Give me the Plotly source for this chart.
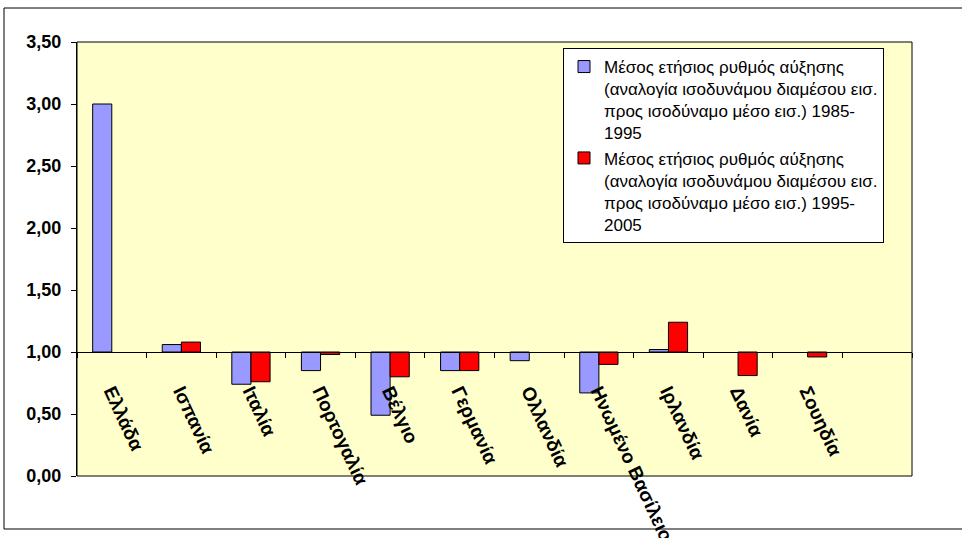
import plotly.graph_objects as go

# Countries (last slot is an empty category)
countries = ["Ελλάδα", "Ισπανία", "Ιταλία", "Πορτογαλία", "Βέλγιο", "Γερμανία",
             "Ολλανδία", "Ηνωμένο Βασίλειο", "Ιρλανδία", "Δανία", "Σουηδία", " "]

# Average annual growth ratio, 1985-1995 and 1995-2005
growth_1985_1995 = [3.00, 1.06, 0.74, 0.85, 0.49, 0.85, 0.93, 0.67, 1.02, None, None, None]
growth_1995_2005 = [None, 1.08, 0.76, 0.98, 0.80, 0.85, None, 0.90, 1.24, 0.81, 0.96, None]

series_names = [
    "Μέσος ετήσιος ρυθμός αύξησης<br>(αναλογία ισοδυνάμου διαμέσου εισ.<br>προς ισοδύναμο μέσο εισ.) 1985-<br>1995",
    "Μέσος ετήσιος ρυθμός αύξησης<br>(αναλογία ισοδυνάμου διαμέσου εισ.<br>προς ισοδύναμο μέσο εισ.) 1995-<br>2005",
]
series_colors = ["#9999FF", "#FF0000"]

y_ticks = [0, 0.5, 1.0, 1.5, 2.0, 2.5, 3.0, 3.5]
y_tick_text = [f"{v:.2f}".replace(".", ",") for v in y_ticks]

BASE = 1.0
FONT = "Liberation Sans, Arial, sans-serif"

fig = go.Figure()
for name, vals, col in zip(series_names, [growth_1985_1995, growth_1995_2005], series_colors):
    fig.add_trace(go.Bar(
        x=countries,
        y=[None if v is None else v - BASE for v in vals],
        base=BASE,
        name=name,
        marker=dict(color=col, line=dict(color="#000000", width=1)),
        customdata=vals,
        hovertemplate="%{x}: %{customdata:.2f}<extra></extra>",
    ))

W, H = 962, 538
L, R, T, B = 77, 50, 42, 62
pw, ph = W - L - R, H - T - B

def px_x(p):
    return (p - L) / pw

def px_y(p):
    return (H - B - p) / ph

fig.update_layout(
    width=W, height=H,
    margin=dict(l=L, r=R, t=T, b=B, autoexpand=False),
    paper_bgcolor="#FFFFFF",
    plot_bgcolor="#FFFFCC",
    barmode="group",
    bargap=0.45,
    bargroupgap=0,
    font=dict(family=FONT, size=14, color="#000000"),
    showlegend=True,
    legend=dict(
        x=px_x(563), y=px_y(48), xanchor="left", yanchor="top",
        bgcolor="#FFFFFF", bordercolor="#000000", borderwidth=1,
        font=dict(family=FONT, size=17, color="#000000"),
        valign="top", tracegroupgap=5, itemwidth=30,
    ),
    xaxis=dict(
        type="category",
        anchor="free",
        position=(BASE - y_ticks[0]) / (y_ticks[-1] - y_ticks[0]),
        showline=True, linecolor="#000000", linewidth=1,
        ticks="outside", ticklen=5, tickcolor="#000000", tickson="boundaries",
        tickangle=65,
        tickfont=dict(family=FONT, size=19, color="#000000", weight="bold"),
        ticklabelstandoff=20,
        showgrid=False, zeroline=False,
        automargin=False,
        range=[-0.5, len(countries) - 0.5],
    ),
    yaxis=dict(
        range=[y_ticks[0], y_ticks[-1]],
        tickvals=y_ticks, ticktext=y_tick_text,
        showline=True, linecolor="#000000", linewidth=1,
        ticks="outside", ticklen=5, tickcolor="#000000",
        tickfont=dict(family=FONT, size=18, color="#000000", weight="bold"),
        ticklabelstandoff=6,
        showgrid=False, zeroline=False,
        automargin=False,
    ),
    shapes=[
        # plot area frame
        dict(type="rect", xref="paper", yref="paper", x0=0, x1=1, y0=0, y1=1,
             line=dict(color="#000000", width=1), fillcolor="rgba(0,0,0,0)", layer="above"),
        # chart frame
        dict(type="rect", xref="paper", yref="paper",
             x0=px_x(4), x1=px_x(990), y0=px_y(529), y1=px_y(8),
             line=dict(color="#000000", width=1), fillcolor="rgba(0,0,0,0)"),
    ],
)

fig.write_html("out.html")
